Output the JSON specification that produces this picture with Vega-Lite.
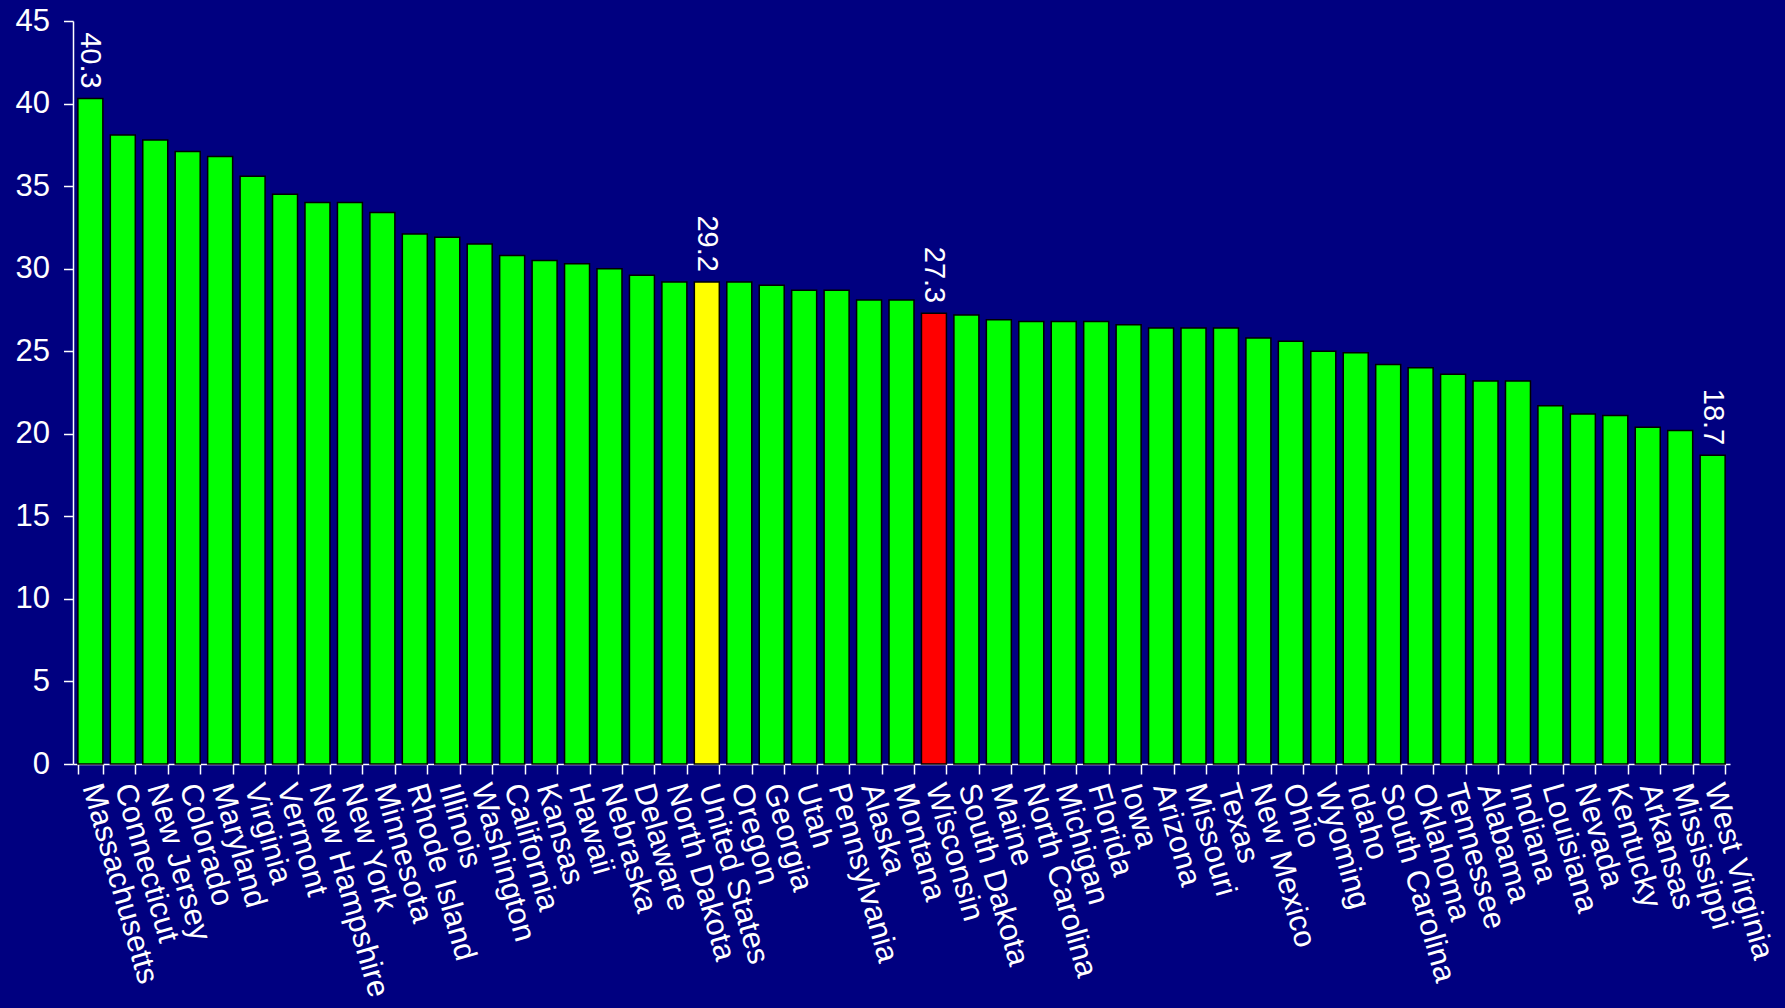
{
  "$schema": "https://vega.github.io/schema/vega-lite/v6.json",
  "autosize": {"type": "none"},
  "width": 1657,
  "height": 743,
  "padding": {"left": 73, "top": 21, "right": 55, "bottom": 244},
  "background": "#000080",
  "config": {
    "view": {"stroke": null},
    "font": "Liberation Sans"
  },
  "data": {
    "values": [
      {"state": "Massachusetts", "rate": 40.3},
      {"state": "Connecticut", "rate": 38.1},
      {"state": "New Jersey", "rate": 37.8},
      {"state": "Colorado", "rate": 37.1},
      {"state": "Maryland", "rate": 36.8},
      {"state": "Virginia", "rate": 35.6},
      {"state": "Vermont", "rate": 34.5},
      {"state": "New Hampshire", "rate": 34.0},
      {"state": "New York", "rate": 34.0},
      {"state": "Minnesota", "rate": 33.4},
      {"state": "Rhode Island", "rate": 32.1},
      {"state": "Illinois", "rate": 31.9},
      {"state": "Washington", "rate": 31.5},
      {"state": "California", "rate": 30.8},
      {"state": "Kansas", "rate": 30.5},
      {"state": "Hawaii", "rate": 30.3},
      {"state": "Nebraska", "rate": 30.0},
      {"state": "Delaware", "rate": 29.6},
      {"state": "North Dakota", "rate": 29.2},
      {"state": "United States", "rate": 29.2},
      {"state": "Oregon", "rate": 29.2},
      {"state": "Georgia", "rate": 29.0},
      {"state": "Utah", "rate": 28.7},
      {"state": "Pennsylvania", "rate": 28.7},
      {"state": "Alaska", "rate": 28.1},
      {"state": "Montana", "rate": 28.1},
      {"state": "Wisconsin", "rate": 27.3},
      {"state": "South Dakota", "rate": 27.2},
      {"state": "Maine", "rate": 26.9},
      {"state": "North Carolina", "rate": 26.8},
      {"state": "Michigan", "rate": 26.8},
      {"state": "Florida", "rate": 26.8},
      {"state": "Iowa", "rate": 26.6},
      {"state": "Arizona", "rate": 26.4},
      {"state": "Missouri", "rate": 26.4},
      {"state": "Texas", "rate": 26.4},
      {"state": "New Mexico", "rate": 25.8},
      {"state": "Ohio", "rate": 25.6},
      {"state": "Wyoming", "rate": 25.0},
      {"state": "Idaho", "rate": 24.9},
      {"state": "South Carolina", "rate": 24.2},
      {"state": "Oklahoma", "rate": 24.0},
      {"state": "Tennessee", "rate": 23.6},
      {"state": "Alabama", "rate": 23.2},
      {"state": "Indiana", "rate": 23.2},
      {"state": "Louisiana", "rate": 21.7},
      {"state": "Nevada", "rate": 21.2},
      {"state": "Kentucky", "rate": 21.1},
      {"state": "Arkansas", "rate": 20.4},
      {"state": "Mississippi", "rate": 20.2},
      {"state": "West Virginia", "rate": 18.7}
    ]
  },
  "encoding": {
    "x": {
      "field": "state",
      "type": "nominal",
      "sort": null,
      "scale": {"paddingInner": 0.23, "paddingOuter": 0.15},
      "axis": {
        "title": null,
        "domainColor": "#FFFFFF",
        "domainWidth": 1.5,
        "tickColor": "#FFFFFF",
        "tickWidth": 1.5,
        "tickSize": 10,
        "tickBand": "extent",
        "labelColor": "#FFFFFF",
        "labelFontSize": 31,
        "labelAngle": 74,
        "labelAlign": "left",
        "labelBaseline": "middle",
        "labelPadding": 10,
        "labelLimit": 0,
        "labelOverlap": false,
        "labelBound": false,
        "labelFlush": false
      }
    },
    "y": {
      "field": "rate",
      "type": "quantitative",
      "scale": {"domain": [0, 45], "nice": false},
      "axis": {
        "title": null,
        "values": [0, 5, 10, 15, 20, 25, 30, 35, 40, 45],
        "grid": false,
        "domainColor": "#FFFFFF",
        "domainWidth": 1.5,
        "tickColor": "#FFFFFF",
        "tickWidth": 1.5,
        "tickSize": 9.5,
        "labelColor": "#FFFFFF",
        "labelFontSize": 31,
        "labelPadding": 14,
        "labelFlush": false
      }
    }
  },
  "layer": [
    {
      "mark": {"type": "bar", "stroke": "#000000", "strokeWidth": 1.5},
      "encoding": {
        "color": {
          "condition": [
            {"test": "datum.state === 'United States'", "value": "#FFFF00"},
            {"test": "datum.state === 'Wisconsin'", "value": "#FF0000"}
          ],
          "value": "#00FF00"
        }
      }
    },
    {
      "transform": [
        {"filter": {"field": "state", "oneOf": ["Massachusetts", "United States", "Wisconsin", "West Virginia"]}}
      ],
      "mark": {
        "type": "text",
        "angle": 90,
        "align": "right",
        "baseline": "middle",
        "dx": -10,
        "fontSize": 29,
        "color": "#FFFFFF"
      },
      "encoding": {
        "text": {"field": "rate", "type": "quantitative", "format": ".1f"}
      }
    }
  ]
}
